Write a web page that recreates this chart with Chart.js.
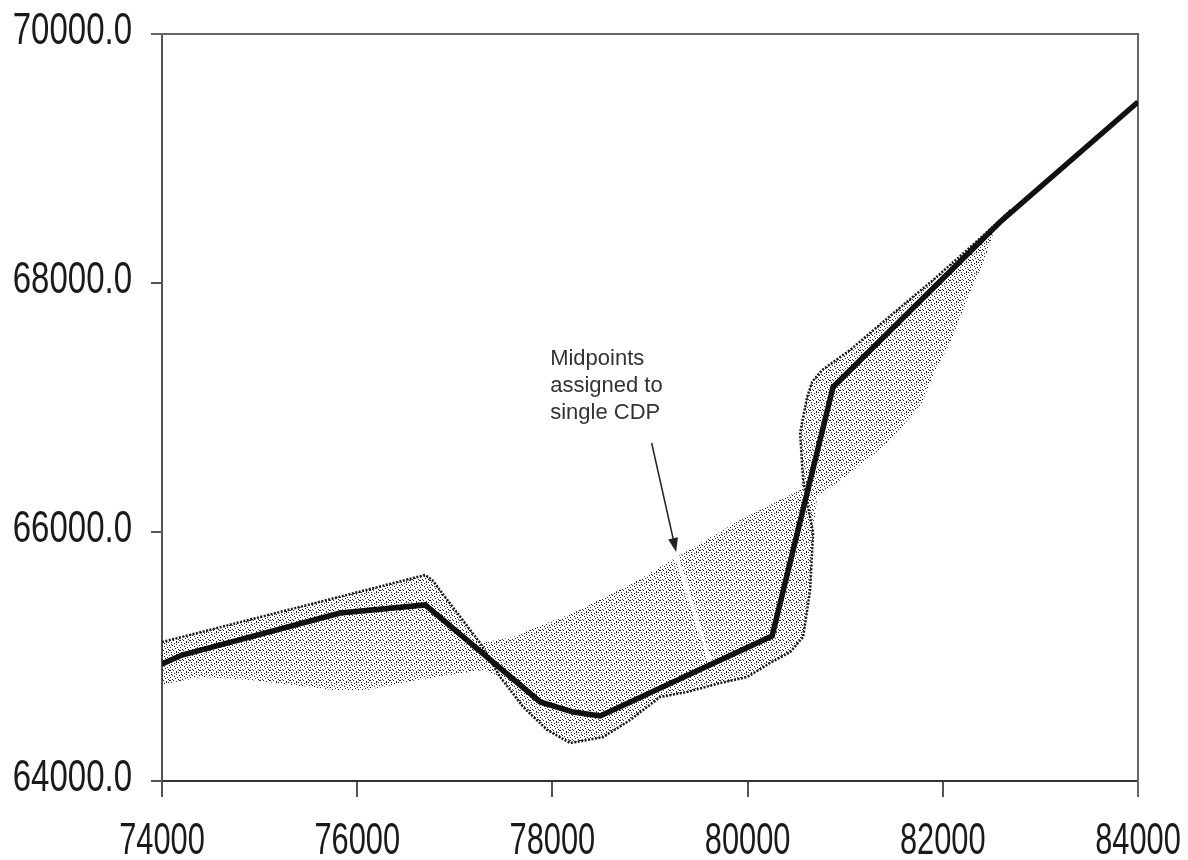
<!DOCTYPE html>
<html>
<head>
<meta charset="utf-8">
<script src="https://cdn.jsdelivr.net/npm/chart.js@4.4.1/dist/chart.umd.min.js"></script>
<style>
    body { margin: 0; background: #fff; }
    .chart-box { width: 1188px; height: 860px; }
</style>
</head>
<body>
<div class="chart-box"><canvas class="cdp-chart"></canvas></div>
<script>
// thick line: assigned CDP positions
const cdpX = [74000, 74205, 75826, 76697, 77875, 78213, 78490, 80251, 80876, 82587, 84000]
const cdpY = [64940, 65012, 65349, 65414, 64635, 64554, 64522, 65165, 67165, 68490, 69454]

// stippled midpoint spread (outline, walked round once)
const spreadX = [74000, 76697, 76769, 77260, 77598, 77947, 78213, 78623, 78828, 79309, 79924, 80538,
    80569, 80538, 80610, 80661, 80763, 81050, 81593, 81900, 82249, 82556, 82413, 82249, 82075, 81941,
    81767, 81388, 81050, 80712, 80671, 80641, 80569, 80436, 80231, 79995, 79719, 79381, 79104, 78930,
    78797, 78520, 78182, 77947, 77701, 77465, 77291, 76615, 76103, 75755, 74904, 74392, 74000]
const spreadY = [65116, 65655, 65614, 65108, 65157, 65269, 65349, 65510, 65590, 65815, 66096, 66337,
    66418, 66795, 67084, 67205, 67301, 67462, 67823, 68024, 68265, 68482, 68161, 67863, 67518, 67325,
    67004, 66683, 66474, 66281, 65992, 65534, 65157, 65036, 64948, 64835, 64787, 64715, 64675, 64570,
    64490, 64353, 64305, 64410, 64594, 64835, 64892, 64811, 64731, 64731, 64811, 64835, 64771]

// dark dotted edge of the spread
const edgeX = [74000, 76697, 76769, 77260, 77465, 77701, 77947, 78182, 78520, 78797, 78930, 79104,
    79381, 79719, 79995, 80231, 80436, 80569, 80641, 80671, 80620, 80569, 80538, 80610, 80661, 80763,
    81050, 81593, 81900, 82249, 82556, 82700]
const edgeY = [65116, 65655, 65614, 65108, 64835, 64594, 64410, 64305, 64353, 64490, 64570, 64675,
    64715, 64787, 64835, 64948, 65036, 65157, 65534, 65992, 66201, 66418, 66795, 67084, 67205, 67301,
    67462, 67823, 68024, 68265, 68482, 68590]

// white gap where midpoints went to a single CDP
const gapX = [79268, 79616]
const gapY = [65815, 64956]

const xTicks = [74000, 76000, 78000, 80000, 82000, 84000]
const yTicks = [64000, 66000, 68000, 70000]

const noteLines = ["Midpoints", "assigned to", "single CDP"]
const notePos = { x: 77977, y: 67390 }
const arrowFrom = { x: 79017, y: 66715 }
const arrowTo = { x: 79268, y: 65839 }

const toPoints = (xs, ys) => xs.map((x, i) => ({ x: x, y: ys[i] }))

// dotted texture for the spread
function makeStipple() {
    const tile = document.createElement("canvas")
    tile.width = 10
    tile.height = 10
    const tctx = tile.getContext("2d")
    tctx.fillStyle = "rgba(0,0,0,0.85)"
    const dots = [[0, 0], [3, 0], [6, 1], [9, 0], [1, 2], [4, 3], [8, 2], [2, 5], [6, 4], [9, 5],
        [0, 7], [4, 6], [7, 7], [2, 9], [5, 8], [8, 9], [1, 4], [6, 2]]
    dots.forEach(d => tctx.fillRect(d[0], d[1], 1, 1))
    return tctx.createPattern(tile, "repeat")
}

const framePlugin = {
    id: "frame",
    beforeDatasetsDraw(chart) {
        const { ctx, chartArea } = chart
        ctx.save()
        ctx.strokeStyle = "#666"
        ctx.lineWidth = 2
        ctx.beginPath()
        ctx.moveTo(chartArea.left - 11, chartArea.top)
        ctx.lineTo(chartArea.right, chartArea.top)
        ctx.lineTo(chartArea.right, chartArea.bottom + 16)
        ctx.stroke()
        ctx.restore()
    }
}

// tall, narrow tick labels like the original
const labelPlugin = {
    id: "tickLabels",
    afterDraw(chart) {
        const { ctx, scales } = chart
        ctx.save()
        ctx.fillStyle = "#1a1a1a"
        ctx.font = "44px 'Liberation Sans', Arial, sans-serif"
        ctx.textBaseline = "middle"
        scales.y.ticks.forEach(t => {
            ctx.save()
            ctx.translate(scales.y.right - 30, scales.y.getPixelForValue(t.value) - 2)
            ctx.scale(0.75, 1)
            ctx.textAlign = "right"
            ctx.fillText(t.value.toFixed(1), 0, 0)
            ctx.restore()
        })
        scales.x.ticks.forEach(t => {
            ctx.save()
            ctx.translate(scales.x.getPixelForValue(t.value), scales.x.top + 61)
            ctx.scale(0.7, 1)
            ctx.textAlign = "center"
            ctx.fillText(String(t.value), 0, 0)
            ctx.restore()
        })
        ctx.restore()
    }
}

const notePlugin = {
    id: "note",
    afterDatasetsDraw(chart) {
        const { ctx, scales } = chart
        const px = scales.x.getPixelForValue(notePos.x)
        const py = scales.y.getPixelForValue(notePos.y)
        ctx.save()
        ctx.fillStyle = "#333"
        ctx.font = "22px 'Liberation Sans', Arial, sans-serif"
        ctx.textBaseline = "middle"
        noteLines.forEach((line, i) => ctx.fillText(line, px, py + i * 27))

        const x1 = scales.x.getPixelForValue(arrowFrom.x)
        const y1 = scales.y.getPixelForValue(arrowFrom.y)
        const x2 = scales.x.getPixelForValue(arrowTo.x)
        const y2 = scales.y.getPixelForValue(arrowTo.y)
        const ang = Math.atan2(y2 - y1, x2 - x1)
        ctx.strokeStyle = "#222"
        ctx.fillStyle = "#222"
        ctx.lineWidth = 1.5
        ctx.beginPath()
        ctx.moveTo(x1, y1)
        ctx.lineTo(x2 - 10 * Math.cos(ang), y2 - 10 * Math.sin(ang))
        ctx.stroke()
        ctx.beginPath()
        ctx.moveTo(x2, y2)
        ctx.lineTo(x2 - 14 * Math.cos(ang) + 5 * Math.sin(ang), y2 - 14 * Math.sin(ang) - 5 * Math.cos(ang))
        ctx.lineTo(x2 - 14 * Math.cos(ang) - 5 * Math.sin(ang), y2 - 14 * Math.sin(ang) + 5 * Math.cos(ang))
        ctx.closePath()
        ctx.fill()
        ctx.restore()
    }
}

// real tick labels are kept for layout but drawn by labelPlugin
const hiddenTicks = { font: { size: 10 }, color: "rgba(0,0,0,0)", padding: 0, maxRotation: 0 }

const chartEl = document.querySelector(".cdp-chart")
const ctx = chartEl.getContext("2d")
const cdpChart = new Chart(ctx, {
    type: "line",
    data: {
        datasets: [{
            label: "CDP",
            data: toPoints(cdpX, cdpY),
            borderColor: "#111",
            borderWidth: 5.5,
            pointRadius: 0,
            fill: false,
            order: 1
        }, {
            label: "Edge",
            data: toPoints(edgeX, edgeY),
            borderColor: "#1a1a1a",
            borderWidth: 2.5,
            borderDash: [2, 1.5],
            pointRadius: 0,
            fill: false,
            order: 2
        }, {
            label: "Gap",
            data: toPoints(gapX, gapY),
            borderColor: "#fff",
            borderWidth: 4,
            pointRadius: 0,
            fill: false,
            order: 3
        }, {
            label: "Midpoints",
            data: toPoints(spreadX, spreadY),
            borderColor: "rgba(0,0,0,0)",
            borderWidth: 0,
            backgroundColor: makeStipple(),
            pointRadius: 0,
            fill: "shape",
            order: 4
        }]
    },
    options: {
        responsive: true,
        maintainAspectRatio: false,
        animation: false,
        layout: { padding: { top: 34, right: 50, left: 0, bottom: 0 } },
        plugins: {
            legend: { display: false },
            tooltip: { enabled: false }
        },
        scales: {
            x: {
                type: "linear",
                min: 74000,
                max: 84000,
                afterBuildTicks: scale => { scale.ticks = xTicks.map(v => ({ value: v })) },
                afterFit: scale => { scale.height = 79 },
                grid: { drawOnChartArea: false, drawTicks: true, tickLength: 16, color: "#555", lineWidth: 2 },
                border: { display: true, color: "#333", width: 2 },
                ticks: Object.assign({ callback: v => String(v) }, hiddenTicks)
            },
            y: {
                type: "linear",
                min: 64000,
                max: 70000,
                afterBuildTicks: scale => { scale.ticks = yTicks.map(v => ({ value: v })) },
                afterFit: scale => { scale.width = 162 },
                grid: { drawOnChartArea: false, drawTicks: true, tickLength: 11, color: "#555", lineWidth: 2 },
                border: { display: true, color: "#555", width: 2 },
                ticks: Object.assign({ callback: v => v.toFixed(1) }, hiddenTicks)
            }
        }
    },
    plugins: [framePlugin, labelPlugin, notePlugin]
})
</script>
</body>
</html>
